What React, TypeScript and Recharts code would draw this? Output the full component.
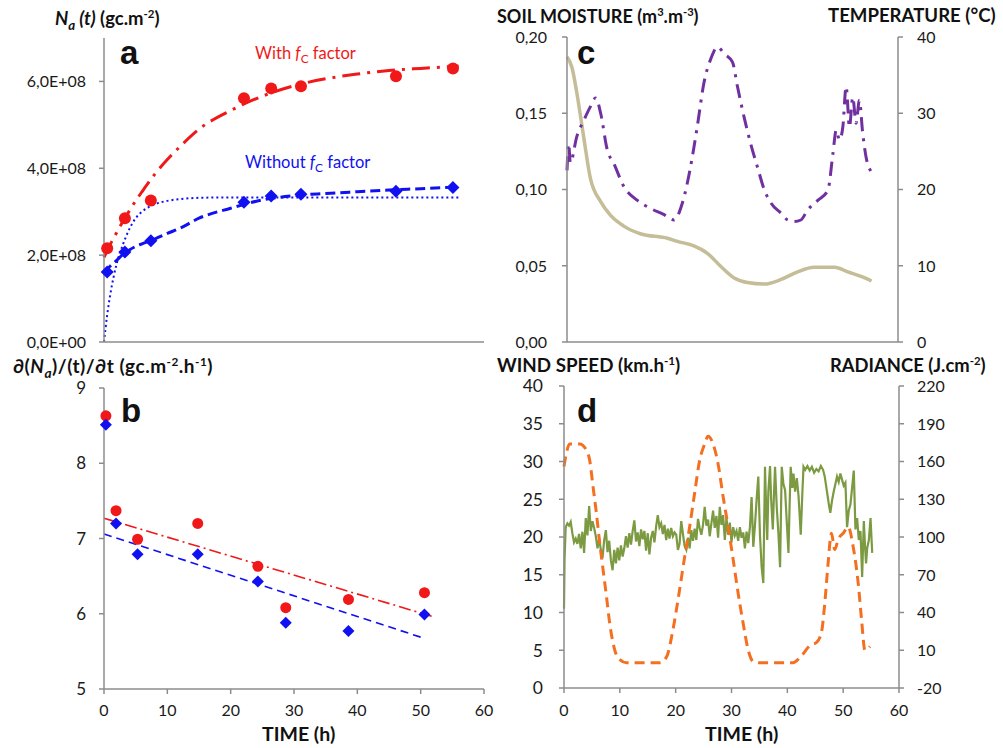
import { ComposedChart, Line, Scatter, XAxis, YAxis } from 'recharts';

const FONT = 'Lato, "Open Sans", sans-serif';
const AXIS = '#8c8c8c';
const RED = '#f01818';
const BLUE = '#1010f0';

// panel a: observed points
const aTime = [0.5, 3.3, 7.4, 22.1, 26.4, 31.1, 46.1, 55.1];
const aWith = [2.16e8, 2.85e8, 3.26e8, 5.61e8, 5.84e8, 5.89e8, 6.12e8, 6.3e8];
const aWithout = [1.61e8, 2.07e8, 2.33e8, 3.22e8, 3.36e8, 3.4e8, 3.47e8, 3.56e8];

// panel a: fitted curves
const fitTime = [0, 1, 2, 3, 4, 5, 6, 8, 10, 12, 15, 20, 25, 30, 35, 40, 45, 50, 56];
const fitWith = [1.95e8, 2.25e8, 2.52e8, 2.78e8, 3.02e8, 3.25e8, 3.46e8, 3.86e8, 4.2e8, 4.5e8, 4.9e8, 5.33e8, 5.66e8, 5.9e8, 6.06e8, 6.17e8, 6.25e8, 6.3e8, 6.35e8];
const fitWithout = [1.6e8, 1.75e8, 1.88e8, 2.02e8, 2.12e8, 2.2e8, 2.26e8, 2.37e8, 2.5e8, 2.62e8, 2.85e8, 3.08e8, 3.27e8, 3.37e8, 3.42e8, 3.46e8, 3.5e8, 3.53e8, 3.57e8];
const dotTime = [0, 0.5, 1, 2, 3, 4, 5, 6, 8, 10, 12, 15, 20, 30, 40, 50, 56];
const dotWithout = [0, 0.62e8, 1.1e8, 1.8e8, 2.25e8, 2.6e8, 2.85e8, 3.0e8, 3.17e8, 3.25e8, 3.29e8, 3.32e8, 3.33e8, 3.33e8, 3.33e8, 3.33e8, 3.33e8];

// panel b: rates
const bTime = [0.3, 1.9, 5.3, 14.8, 24.3, 28.7, 38.6, 50.6];
const bWith = [8.63, 7.37, 6.99, 7.2, 6.63, 6.08, 6.19, 6.28];
const bWithout = [8.51, 7.2, 6.79, 6.79, 6.43, 5.88, 5.77, 5.99];
const trendWithTime = [0, 52];
const trendWith = [7.27, 5.96];
const trendWithoutTime = [0, 50.7];
const trendWithout = [7.06, 5.67];

// panel c
const moistTime = [0, 0.9, 1.8, 3.0, 4.2, 6.1, 7.9, 10.3, 13.3, 18.2, 20, 23, 25.5, 27.9, 30.3, 32.7, 35.8, 38.8, 41.8, 44.8, 48.5, 50.9, 53.3, 55.2];
const moisture = [0.187, 0.18, 0.163, 0.135, 0.108, 0.092, 0.083, 0.076, 0.071, 0.068, 0.066, 0.063, 0.058, 0.0495, 0.042, 0.039, 0.038, 0.041, 0.046, 0.049, 0.049, 0.046, 0.043, 0.04];
const tempTime = [0, 0.3, 0.6, 1.8, 3.0, 4.2, 5.2, 6.1, 7.3, 8.5, 10.3, 12.7, 15.2, 17.6, 19.4, 20.9, 22.4, 23.6, 24.8, 26.1, 27.3, 28.5, 30, 30.9, 32.1, 33.3, 34.5, 35.8, 37, 38.8, 40, 41.2, 42.4, 43.6, 45.5, 47.3, 48.2, 48.8, 49.4, 50, 50.6, 51.2, 51.8, 52.4, 53, 53.6, 54.2, 55.2];
const temperature = [22.5, 26, 23.5, 27, 29, 30.8, 32, 30, 25.2, 23.4, 20.4, 18.6, 17.5, 16.7, 16, 18.2, 23, 28.2, 33.9, 37.2, 38.7, 37.8, 36.7, 33.5, 29.5, 26, 23, 19.9, 18.2, 16.9, 16, 15.8, 16, 17.3, 18.6, 19.9, 24.7, 27.8, 26.5, 28.2, 33.5, 28.2, 32.1, 28.7, 31.7, 27.4, 24.3, 22.3];

// panel d
const windTime = [
  0, 0.1, 0.3, 0.6, 0.9, 1.2, 1.5, 1.8, 2.1, 2.4,
  2.7, 3.0, 3.3, 3.6, 3.9, 4.2, 4.5, 4.8, 5.1, 5.4,
  5.7, 6.0, 6.3, 6.6, 6.9, 7.2, 7.5, 7.8, 8.1, 8.4,
  8.7, 9.0, 9.3, 9.6, 9.9, 10.2, 10.5, 10.8, 11.1, 11.4,
  11.7, 12.0, 12.3, 12.6, 12.9, 13.2, 13.5, 13.8, 14.1, 14.4,
  14.7, 15.0, 15.3, 15.6, 15.9, 16.2, 16.5, 16.8, 17.1, 17.4,
  17.7, 18.0, 18.3, 18.6, 18.9, 19.2, 19.5, 19.8, 20.1, 20.4,
  20.7, 21.0, 21.3, 21.6, 21.9, 22.2, 22.5, 22.8, 23.1, 23.4,
  23.7, 24.0, 24.3, 24.6, 24.9, 25.2, 25.5, 25.8, 26.1, 26.4,
  26.7, 27.0, 27.3, 27.6, 27.9, 28.2, 28.5, 28.8, 29.1, 29.4,
  29.7, 30.0, 30.3, 30.6, 30.9, 31.2, 31.5, 31.8, 32.1, 32.4,
  32.7, 33.0, 33.3, 33.6, 33.9, 34.2, 34.5, 34.8, 35.1, 35.4,
  35.7, 36.0, 36.2, 36.4, 36.6, 36.9, 37.1, 37.4, 37.6, 37.8,
  38.1, 38.4, 38.7, 39.0, 39.3, 39.6, 39.9, 40.2, 40.4, 40.6,
  40.9, 41.1, 41.4, 41.7, 42.0, 42.2, 42.4, 42.7, 42.9, 43.2,
  43.6, 44.0, 44.4, 44.8, 45.2, 45.6, 46.0, 46.4, 46.7, 47.1,
  47.4, 47.7, 48.0, 48.3, 48.6, 48.9, 49.2, 49.5, 49.8, 50.1,
  50.4, 50.7, 51.0, 51.3, 51.6, 51.9, 52.2, 52.5, 52.8, 53.1,
  53.4, 53.7, 53.9, 54.1, 54.3, 54.6, 54.9, 55.2,
];
const windSpeed = [
  10.5, 17, 21.3, 21.8, 21.5, 22, 20.5, 19.3, 19.8, 19.1,
  20.4, 18.5, 20.7, 17.9, 22.5, 20.2, 24.1, 20.8, 22.1, 21.2,
  20.1, 18.5, 19.8, 18.3, 17.2, 19.6, 20.9, 18, 19.5, 16.9,
  15.6, 18.3, 16.5, 18.6, 16.9, 18.9, 17.4, 18.5, 20.1, 18.6,
  20.5, 19, 20.8, 22.2, 19.4, 20.6, 18.8, 21, 19.7, 20.8,
  18.2, 20.5, 17.7, 19.9, 20.8, 19.3, 21.4, 22.9, 21.3, 21.8,
  20.4, 21.6, 19.6, 21.1, 19.8, 21.2, 20.1, 20.6, 20.3, 18.3,
  19.1, 22.1, 20.4, 18.8, 18.3, 19.9, 18.5, 20.9, 19.5, 21.1,
  19.6, 22.4, 21.2, 20.3, 21.6, 24, 21.5, 22.3, 20.1, 21.8,
  23.5, 21.2, 22.8, 19.9, 24, 21.6, 22.9, 19.6, 22.5, 20.3,
  21.9, 19.3, 21.3, 20.2, 20.8, 19.5, 21.3, 19.9, 20.6, 18.5,
  20.7, 19.2, 21.3, 25.3, 18.7, 21.5, 25, 28, 20.2, 16,
  13.9, 29.3, 24, 19.6, 26, 29.4, 25, 21, 25.5, 29.3,
  24, 20.5, 16, 29.3, 27, 26.2, 22, 17.9, 24, 29.3,
  26.5, 28.4, 26, 27.8, 25.5, 23, 20.3, 26, 29.3, 28.9,
  29.4, 28.8, 29.3, 28.5, 29, 28.7, 29.4, 28.9, 28, 26,
  24.5, 23.2, 24.8, 26, 27, 28, 27.3, 28.4, 27.6, 26.8,
  27.2, 21.3, 23.5, 24.3, 26.5, 28.8, 21, 22.5, 19.6, 20.8,
  14.7, 22.1, 19, 16.5, 18.5, 19.6, 22.5, 17.9,
];
const radTime = [0, 0.4, 1, 2.8, 4, 4.6, 5.2, 5.8, 6.4, 7, 7.6, 8.2, 9.1, 10, 11.2, 17.2, 18.4, 19.5, 20.7, 21.6, 22.5, 23.4, 24.3, 25.2, 25.8, 26.7, 27.6, 28.5, 29.4, 30.3, 31.2, 32.1, 33, 33.9, 35.1, 41, 42.6, 44.1, 45.2, 46.1, 46.7, 47.3, 47.9, 48.5, 49.1, 50, 50.9, 51.8, 52.7, 53.3, 53.9, 54.8];
const radiance = [156, 166, 174, 174, 169, 161, 140, 119, 95, 74, 53, 31, 10, 2.5, 0, 0, 5, 26, 58, 84, 108, 135, 161, 174, 180, 174, 158, 132, 108, 82, 55, 31, 10, 1, 0, 0, 6, 14, 16, 24, 47, 79, 103, 90, 98, 103, 108, 92, 63, 34, 10, 13];

const timeTicks = [0, 10, 20, 30, 40, 50, 60];

const zip = (ts: number[], vs: number[]) => ts.map((t, i) => ({ t, v: vs[i] }));

// y-axis label drawn at a fixed column, so the gap to the axis matches the reference
const yTick = (x: number, size: number, anchor: 'start' | 'end', fmt?: (v: number) => string) => (p: any) => (
  <text x={x} y={p.y} dy="0.36em" textAnchor={anchor} fontSize={size} fontFamily={FONT} fill="#1a1a1a">
    {fmt ? fmt(p.payload.value) : p.payload.value}
  </text>
);
const xTick = (y: number, size: number) => (p: any) => (
  <text x={p.x} y={y} dy="0.36em" textAnchor="middle" fontSize={size} fontFamily={FONT} fill="#1a1a1a">
    {p.payload.value}
  </text>
);

const Circle = (r: number) => (p: any) => <circle cx={p.cx} cy={p.cy} r={r} fill={RED} />;
const Diamond = (h: number) => (p: any) => (
  <polygon points={`${p.cx},${p.cy - h} ${p.cx + h},${p.cy} ${p.cx},${p.cy + h} ${p.cx - h},${p.cy}`} fill={BLUE} />
);

const sciLabel = (v: number) => (v === 0 ? '0,0E+00' : (v / 1e8).toFixed(1).replace('.', ',') + 'E+08');

const Txt = ({ x, y, size = 18, bold = true, color = '#111', children, font = FONT, spacing = 0 }: any) => (
  <div style={{ position: 'absolute', left: x, top: y, fontSize: size, fontWeight: bold ? 700 : 400, color, fontFamily: font, whiteSpace: 'nowrap', lineHeight: 1, letterSpacing: spacing }}>
    {children}
  </div>
);

function PanelA() {
  return (
    <ComposedChart width={500} height={370} margin={{ top: 38, right: 16, bottom: 0, left: 0 }}>
      <XAxis dataKey="t" type="number" domain={[0, 60]} ticks={timeTicks} tick={false} height={28} stroke={AXIS} strokeWidth={1.5} tickSize={5} />
      <YAxis type="number" domain={[0, 7e8]} ticks={[0, 2e8, 4e8, 6e8]} width={104} stroke={AXIS} strokeWidth={1.5} tickSize={5} tick={yTick(86, 16, 'end', sciLabel)} />
      <Line data={zip(fitTime, fitWith)} dataKey="v" type="monotone" stroke={RED} strokeWidth={3} strokeDasharray="18 7 3 7" dot={false} isAnimationActive={false} />
      <Line data={zip(fitTime, fitWithout)} dataKey="v" type="monotone" stroke={BLUE} strokeWidth={3} strokeDasharray="10 5" dot={false} isAnimationActive={false} />
      <Line data={zip(dotTime, dotWithout)} dataKey="v" type="monotone" stroke={BLUE} strokeWidth={2} strokeDasharray="2 3" dot={false} isAnimationActive={false} />
      <Scatter data={zip(aTime, aWith)} dataKey="v" shape={Circle(6)} isAnimationActive={false} />
      <Scatter data={zip(aTime, aWithout)} dataKey="v" shape={Diamond(6.5)} isAnimationActive={false} />
    </ComposedChart>
  );
}

function PanelB() {
  return (
    <ComposedChart width={500} height={378} margin={{ top: 18, right: 16, bottom: 0, left: 0 }}>
      <XAxis dataKey="t" type="number" domain={[0, 60]} ticks={timeTicks} height={59} stroke={AXIS} strokeWidth={1.5} tickSize={5} tick={xTick(340, 16)} />
      <YAxis type="number" domain={[5, 9]} ticks={[5, 6, 7, 8, 9]} width={104} stroke={AXIS} strokeWidth={1.5} tickSize={5} tick={yTick(86, 17, 'end')} />
      <Line data={zip(trendWithTime, trendWith)} dataKey="v" type="linear" stroke={RED} strokeWidth={1.6} strokeDasharray="12 4 2 4" dot={false} isAnimationActive={false} />
      <Line data={zip(trendWithoutTime, trendWithout)} dataKey="v" type="linear" stroke={BLUE} strokeWidth={1.6} strokeDasharray="8 5" dot={false} isAnimationActive={false} />
      <Scatter data={zip(bTime, bWith)} dataKey="v" shape={Circle(5.5)} isAnimationActive={false} />
      <Scatter data={zip(bTime, bWithout)} dataKey="v" shape={Diamond(6)} isAnimationActive={false} />
    </ComposedChart>
  );
}

function PanelC() {
  return (
    <ComposedChart width={503} height={370} margin={{ top: 37, right: 0, bottom: 0, left: 0 }}>
      <XAxis dataKey="t" type="number" domain={[0, 60]} ticks={timeTicks} tick={false} height={28} stroke={AXIS} strokeWidth={1.5} tickSize={5} />
      <YAxis yAxisId="left" type="number" domain={[0, 0.2]} ticks={[0, 0.05, 0.1, 0.15, 0.2]} width={67} stroke={AXIS} strokeWidth={1.5} tickSize={5} tick={yTick(47, 16, 'end', (v) => v.toFixed(2).replace('.', ','))} />
      <YAxis yAxisId="right" orientation="right" type="number" domain={[0, 40]} ticks={[0, 10, 20, 30, 40]} width={105} stroke={AXIS} strokeWidth={1.5} tickSize={5} tick={yTick(417, 16, 'start')} />
      <Line yAxisId="left" data={zip(moistTime, moisture)} dataKey="v" type="monotone" stroke="#c4bd97" strokeWidth={3.5} dot={false} isAnimationActive={false} />
      <Line yAxisId="right" data={zip(tempTime, temperature)} dataKey="v" type="monotone" stroke="#7030a0" strokeWidth={3} strokeDasharray="14 7 3 7" dot={false} isAnimationActive={false} />
    </ComposedChart>
  );
}

function PanelD() {
  return (
    <ComposedChart width={503} height={378} margin={{ top: 16, right: 0, bottom: 0, left: 0 }}>
      <XAxis dataKey="t" type="number" domain={[0, 60]} ticks={timeTicks} height={60} stroke={AXIS} strokeWidth={1.5} tickSize={5} tick={xTick(340, 16)} />
      <YAxis yAxisId="left" type="number" domain={[0, 40]} ticks={[0, 5, 10, 15, 20, 25, 30, 35, 40]} width={64} stroke={AXIS} strokeWidth={1.5} tickSize={5} tick={yTick(43, 17.5, 'end')} />
      <YAxis yAxisId="right" orientation="right" type="number" domain={[-20, 220]} ticks={[-20, 10, 40, 70, 100, 130, 160, 190, 220]} width={104} stroke={AXIS} strokeWidth={1.5} tickSize={5} tick={yTick(417, 16, 'start')} />
      <Line yAxisId="left" data={zip(windTime, windSpeed)} dataKey="v" type="linear" stroke="#7b9a41" strokeWidth={2.2} dot={false} isAnimationActive={false} />
      <Line yAxisId="right" data={zip(radTime, radiance)} dataKey="v" type="monotone" stroke="#f47020" strokeWidth={3} strokeDasharray="10 6" dot={false} isAnimationActive={false} />
    </ComposedChart>
  );
}

export default function App() {
  const sub = { fontSize: '0.72em', verticalAlign: 'sub' } as const;
  const sup = { fontSize: '0.62em', verticalAlign: 'super' } as const;
  const letterFont = '"Liberation Sans", Arial, sans-serif';
  return (
    <div style={{ position: 'absolute', left: 0, top: 0, width: 1003, height: 748, background: '#fff', overflow: 'hidden' }}>
      <div style={{ position: 'absolute', left: 0, top: 0 }}><PanelA /></div>
      <div style={{ position: 'absolute', left: 0, top: 370 }}><PanelB /></div>
      <div style={{ position: 'absolute', left: 500, top: 0 }}><PanelC /></div>
      <div style={{ position: 'absolute', left: 500, top: 370 }}><PanelD /></div>

      <Txt x={55} y={8} size={18.5}><i>N<span style={sub}>a</span> (t)</i> (gc.m<span style={sup}>-2</span>)</Txt>
      <Txt x={13} y={356} size={19} spacing={0.5}>∂(<i>N<span style={sub}>a</span></i>)/(t)/∂t (gc.m<span style={sup}>-2</span>.h<span style={sup}>-1</span>)</Txt>
      <Txt x={497} y={6} size={18}>SOIL MOISTURE (m<span style={sup}>3</span>.m<span style={sup}>-3</span>)</Txt>
      <Txt x={828} y={6} size={18.6}>TEMPERATURE (°C)</Txt>
      <Txt x={497} y={355} size={18.8}>WIND SPEED (km.h<span style={sup}>-1</span>)</Txt>
      <Txt x={830} y={355} size={18.4}>RADIANCE (J.cm<span style={sup}>-2</span>)</Txt>
      <Txt x={262} y={724} size={19.5}>TIME (h)</Txt>
      <Txt x={705} y={724} size={19.5}>TIME (h)</Txt>

      <Txt x={255} y={45} size={16.5} bold={false} color={RED}>With <i>f</i><span style={sub}>C</span> factor</Txt>
      <Txt x={245} y={154} size={16.5} bold={false} color={BLUE}>Without <i>f</i><span style={sub}>C</span> factor</Txt>

      <Txt x={120} y={36} size={33} font={letterFont}>a</Txt>
      <Txt x={121} y={394} size={33} font={letterFont}>b</Txt>
      <Txt x={577} y={36} size={33} font={letterFont}>c</Txt>
      <Txt x={577} y={394} size={33} font={letterFont}>d</Txt>
    </div>
  );
}
